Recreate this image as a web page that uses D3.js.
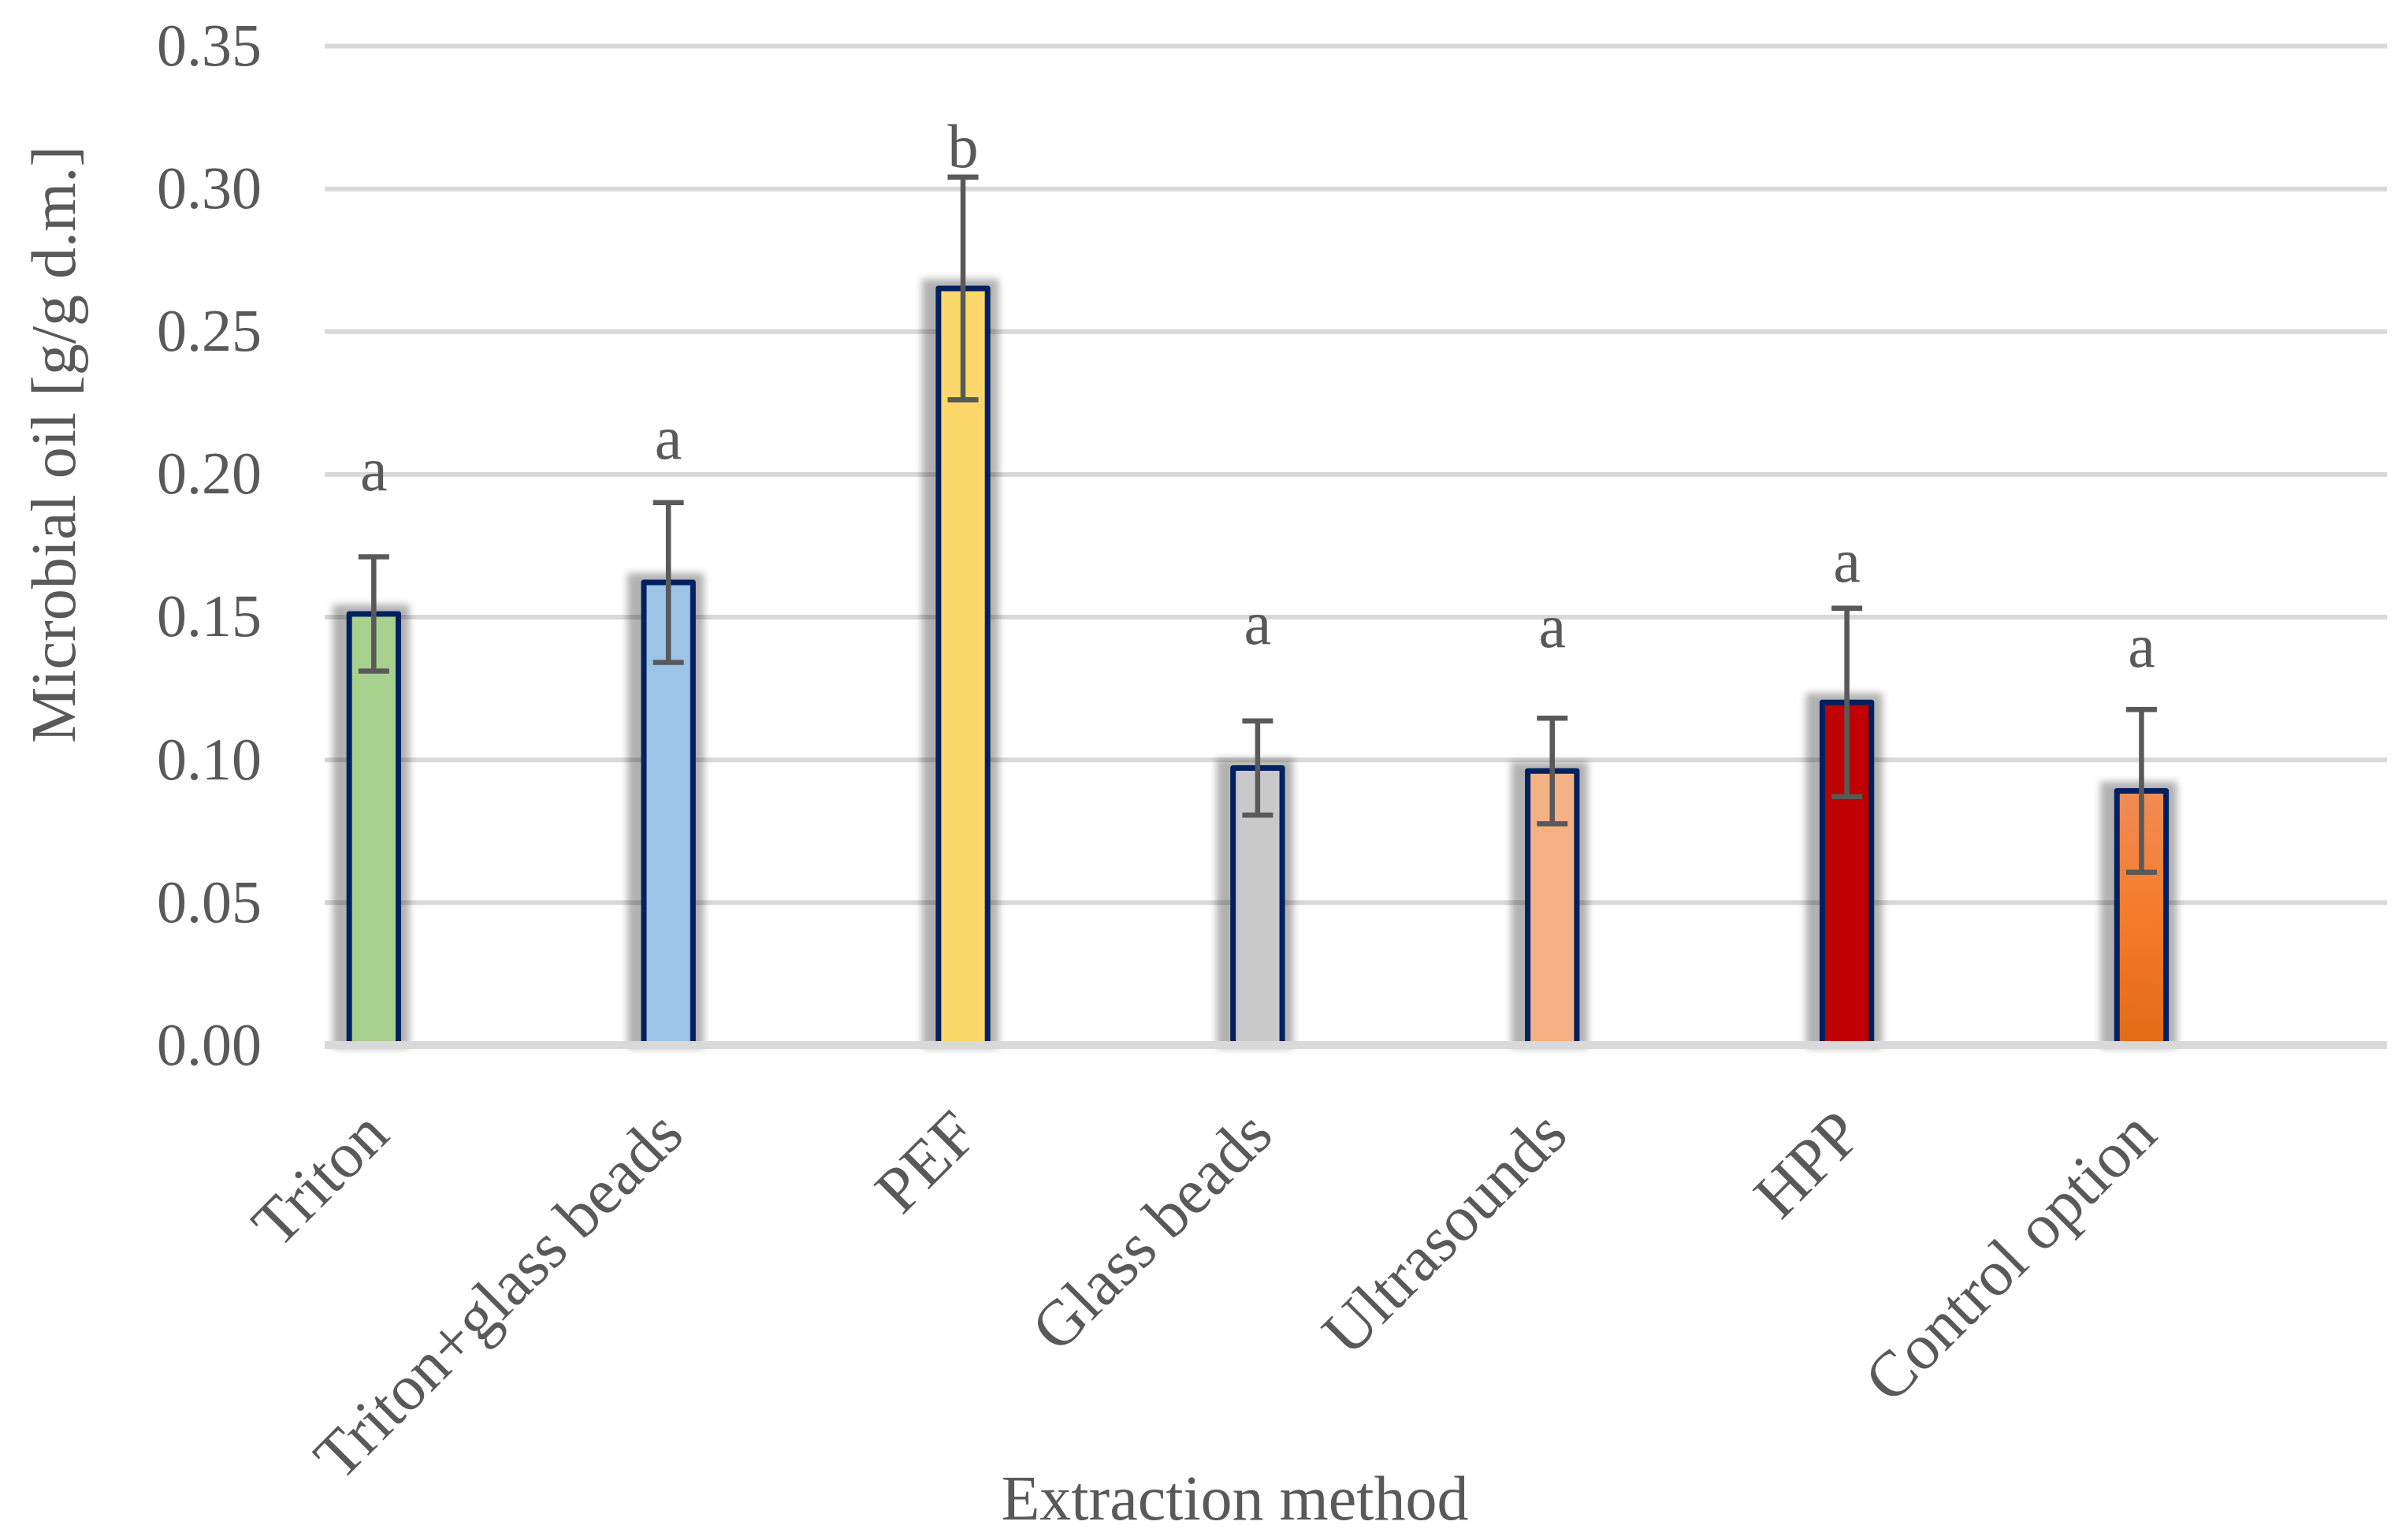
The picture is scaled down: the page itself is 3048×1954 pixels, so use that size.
<!DOCTYPE html>
<html>
<head>
<meta charset="utf-8">
<script src="https://cdn.jsdelivr.net/npm/d3@7/dist/d3.min.js"></script>
<style>
  html, body { margin: 0; padding: 0; background: #ffffff; }
  svg { display: block; }
</style>
</head>
<body>
<svg id="chart" width="3048" height="1954"></svg>
<script>
// ---- data ----
const categories = ["Triton", "Triton+glass beads", "PEF", "Glass beads", "Ultrasounds", "HPP", "Control option"];
const values     = [0.151, 0.162, 0.265, 0.097, 0.096, 0.120, 0.089];
const errors     = [0.020, 0.028, 0.039, 0.0165, 0.0185, 0.033, 0.0285];
const letters    = ["a", "a", "b", "a", "a", "a", "a"];
const letterAt   = [0.1944, 0.2054, 0.3074, 0.1404, 0.1394, 0.1624, 0.1324];
const colors     = ["#A9D18E", "#9DC3E6", "#FCD86A", "#C9C9C9", "#F4B183", "#C00000", "url(#ctrlGrad)"];
const yTicks     = [0, 0.05, 0.10, 0.15, 0.20, 0.25, 0.30, 0.35];
const yTitle = "Microbial oil [g/g d.m.]";
const xTitle = "Extraction method";

(function () {
// ---- layout ----
const plotL = 412, plotR = 3029, plotT = 58, plotB = 1326;
const font = "'Liberation Serif', 'Times New Roman', serif";
const textColor = "#595959";

const svg = d3.select("#chart");
const defs = svg.append("defs");
const grad = defs.append("linearGradient").attr("id", "ctrlGrad")
  .attr("x1", 0).attr("y1", 0).attr("x2", 0).attr("y2", 1);
grad.append("stop").attr("offset", "0%").attr("stop-color", "#F08C57");
grad.append("stop").attr("offset", "45%").attr("stop-color", "#F57D2C");
grad.append("stop").attr("offset", "100%").attr("stop-color", "#E26B16");
const blur = defs.append("filter").attr("id", "shadowBlur")
  .attr("x", "-50%").attr("y", "-10%").attr("width", "200%").attr("height", "120%");
blur.append("feGaussianBlur").attr("stdDeviation", 5);

const y = d3.scaleLinear().domain([0, 0.35]).range([plotB, plotT]);
// category slots fill the plot; each bar sits in the first of five sub-slots (Excel clustered layout)
const xCat = d3.scaleBand().domain(categories).range([plotL, plotR]);
const xSub = d3.scaleBand().domain([0, 1, 2, 3, 4]).range([0, xCat.bandwidth()]).paddingOuter(0.5);
const bw = xSub.bandwidth();
const barX = c => xCat(c) + xSub(0);
const barC = c => barX(c) + bw / 2;

const data = categories.map((c, i) => ({ c, v: values[i], e: errors[i], l: letters[i], la: letterAt[i], col: colors[i] }));

// gridlines
const grid = svg.append("g").attr("transform", `translate(${plotL},0)`)
  .call(d3.axisLeft(y).tickValues(yTicks.filter(t => t > 0)).tickSize(-(plotR - plotL)).tickFormat(""));
grid.select(".domain").remove();
grid.selectAll(".tick line").attr("stroke", "#D9D9D9").attr("stroke-width", 6);

// y tick labels
const yAx = svg.append("g").attr("transform", `translate(${plotL},0)`)
  .call(d3.axisLeft(y).tickValues(yTicks).tickSize(0).tickPadding(80).tickFormat(d3.format(".2f")));
yAx.select(".domain").remove();
yAx.selectAll("text").attr("font-family", font).attr("font-size", 76).attr("fill", textColor);

// shadows
svg.append("g").selectAll("rect").data(data).join("rect")
  .attr("x", d => barX(d.c) - 21)
  .attr("y", d => y(d.v) - 12)
  .attr("width", bw + 35)
  .attr("height", d => y(0) - y(d.v) + 16)
  .attr("fill", "#000").attr("opacity", 0.3)
  .attr("filter", "url(#shadowBlur)");

// bars
svg.append("g").selectAll("rect").data(data).join("rect")
  .attr("x", d => barX(d.c))
  .attr("y", d => y(d.v))
  .attr("width", bw)
  .attr("height", d => y(0) - y(d.v))
  .attr("fill", d => d.col)
  .attr("stroke", "#002060").attr("stroke-width", 7)
  .attr("stroke-linejoin", "round");

// baseline
const xAx = svg.append("g").attr("transform", `translate(0,${y(0)})`)
  .call(d3.axisBottom(xCat).tickSize(0).tickFormat(""));
xAx.select(".domain").attr("stroke", "#D9D9D9").attr("stroke-width", 10)
  .attr("d", `M${plotL},0H${plotR}`);

// error bars
const eb = svg.append("g").attr("stroke", "#595959").attr("stroke-width", 6.5);
const cap = 19.5;
data.forEach(d => {
  const cx = barC(d.c);
  eb.append("line").attr("x1", cx).attr("x2", cx).attr("y1", y(d.v + d.e)).attr("y2", y(d.v - d.e));
  eb.append("line").attr("x1", cx - cap).attr("x2", cx + cap).attr("y1", y(d.v + d.e)).attr("y2", y(d.v + d.e));
  eb.append("line").attr("x1", cx - cap).attr("x2", cx + cap).attr("y1", y(d.v - d.e)).attr("y2", y(d.v - d.e));
});

// significance letters
svg.append("g").selectAll("text").data(data).join("text")
  .attr("x", d => barC(d.c))
  .attr("y", d => y(d.la))
  .attr("text-anchor", "middle")
  .attr("font-family", font).attr("font-size", 78).attr("fill", textColor)
  .text(d => d.l);

// category labels (rotated)
svg.append("g").selectAll("text").data(data).join("text")
  .attr("transform", d => `translate(${barC(d.c) + 3},${plotB + 98}) rotate(-45)`)
  .attr("text-anchor", "end")
  .attr("dominant-baseline", "central")
  .attr("font-family", font).attr("font-size", 82).attr("fill", textColor)
  .text(d => d.c);

// axis titles
svg.append("text")
  .attr("transform", `translate(68,564) rotate(-90)`)
  .attr("text-anchor", "middle").attr("dominant-baseline", "central")
  .attr("font-family", font).attr("font-size", 80).attr("fill", textColor)
  .text(yTitle);
svg.append("text")
  .attr("x", 1567).attr("y", 1928)
  .attr("text-anchor", "middle")
  .attr("font-family", font).attr("font-size", 80).attr("fill", textColor)
  .text(xTitle);
})();
</script>
</body>
</html>
